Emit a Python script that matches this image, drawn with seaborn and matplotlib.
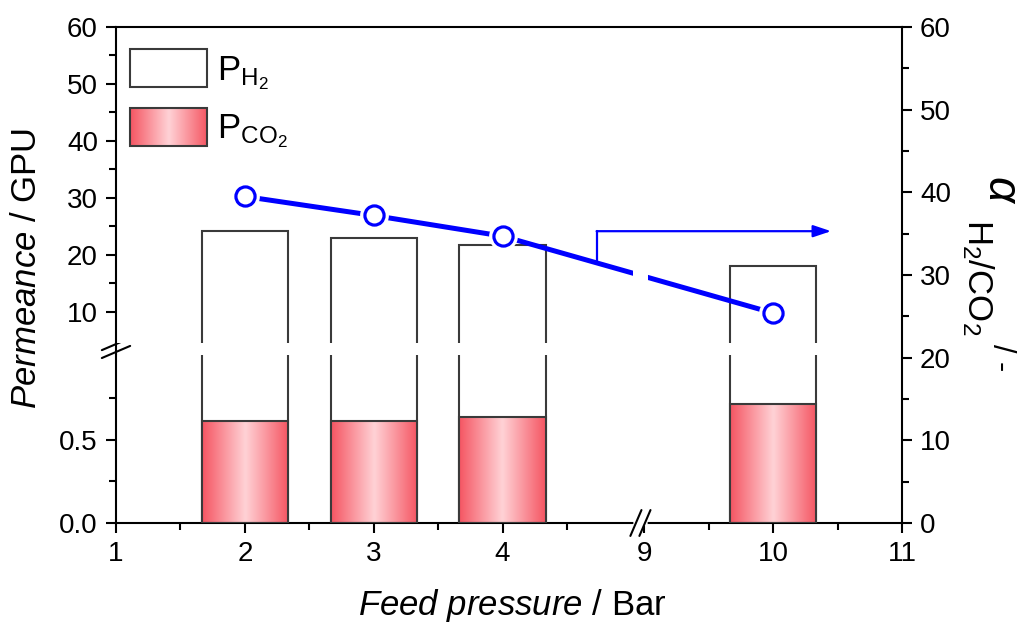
import numpy as np
import pandas as pd
import matplotlib
matplotlib.use("Agg")
import matplotlib.pyplot as plt
import matplotlib.transforms as mtransforms
from matplotlib.colors import LinearSegmentedColormap
from matplotlib.patches import Rectangle
import seaborn as sns


# values
pressure = [2, 3, 4, 10]
perm_h2 = [24.2, 22.9, 21.75, 18.0]
perm_co2 = [0.615, 0.612, 0.638, 0.716]
selectivity = [39.5, 37.2, 34.7, 25.4]
xtick_values = [1, 2, 3, 4, 9, 10, 11]
xminor_values = [1.5, 2.5, 3.5, 4.5, 9.5, 10.5]

SHIFT = 3.9      # the x axis jumps from 4 to 9
BREAK_X = 5.07


def to_pos(p):
    p = np.asarray(p, dtype=float)
    return np.where(p >= 8, p - SHIFT, p)


sns.set_theme(style="ticks")
plt.rcParams["font.family"] = ["Liberation Sans", "DejaVu Sans"]
plt.rcParams["mathtext.fontset"] = "custom"
plt.rcParams["mathtext.rm"] = "Liberation Sans"
plt.rcParams["mathtext.it"] = "Liberation Sans:italic"
plt.rcParams["mathtext.bf"] = "Liberation Sans:bold"
plt.rcParams["text.color"] = "black"
plt.rcParams["axes.labelcolor"] = "black"
plt.rcParams["xtick.color"] = "black"
plt.rcParams["ytick.color"] = "black"

W, H = 1027, 626
fig = plt.figure(figsize=(W / 100, H / 100), dpi=100)
left, right = 116 / W, 902 / W
ax_lo = fig.add_axes([left, (H - 523) / H, right - left, (523 - 355) / H])
ax_hi = fig.add_axes([left, (H - 343) / H, right - left, (343 - 27) / H])
ax_r = fig.add_axes([left, (H - 523) / H, right - left, (523 - 27) / H])
ax_r.patch.set_visible(False)

df = pd.DataFrame({"pos": to_pos(pressure), "h2": perm_h2, "co2": perm_co2})
n = len(pressure)
edge = "#3a3a3a"
cmap = LinearSegmentedColormap.from_list(
    "bar", ["#f55562", "#ffd2d6", "#f55562"]
)
grad = np.linspace(0, 1, 256)[None, :]

for ax in (ax_lo, ax_hi):
    sns.barplot(
        data=df, x="pos", y="h2", native_scale=True, width=0.67,
        color="white", edgecolor=edge, linewidth=1.5, errorbar=None,
        ax=ax, zorder=2
    )

sns.barplot(
    data=df, x="pos", y="co2", native_scale=True, width=0.67,
    color="red", edgecolor=edge, linewidth=1.5, errorbar=None,
    ax=ax_lo, zorder=3
)
for patch in ax_lo.patches[n:]:
    x0, y0 = patch.get_x(), patch.get_y()
    w, h = patch.get_width(), patch.get_height()
    im = ax_lo.imshow(
        grad, cmap=cmap, extent=[x0, x0 + w, y0, y0 + h],
        aspect="auto", zorder=2.5, interpolation="bicubic"
    )
    im.set_clip_path(patch)
    patch.set_facecolor("none")

# selectivity on the right axis
pos = to_pos(pressure)
sns.lineplot(x=pos, y=selectivity, ax=ax_r, color="blue", linewidth=3.6, zorder=3)
sns.scatterplot(x=pos, y=selectivity, ax=ax_r, s=430, color="white",
                linewidth=0, zorder=4)
sns.scatterplot(x=pos, y=selectivity, ax=ax_r, s=190, color="white",
                edgecolor="blue", linewidth=2.3, zorder=5)

yb = np.interp(BREAK_X, pos, selectivity)
ax_r.add_patch(Rectangle((BREAK_X - 0.055, yb - 1.6), 0.11, 3.2,
                         facecolor="white", edgecolor="none", zorder=3.5))

arrow_x = 4.73
ya = np.interp(arrow_x, pos, selectivity)
ax_r.plot([arrow_x, arrow_x], [ya, 35.3], color="blue", lw=1.6, zorder=3)
ax_r.annotate(
    "", xy=(6.55, 35.3), xytext=(arrow_x, 35.3),
    arrowprops=dict(arrowstyle="-|>,head_length=0.9,head_width=0.3",
                    color="blue", lw=1.6, shrinkA=0, shrinkB=0),
    zorder=3
)

# legend drawn by hand
r1 = Rectangle((0.0178, 0.810), 0.098, 0.120, transform=ax_hi.transAxes,
               facecolor="white", edgecolor=edge, lw=1.5, clip_on=False, zorder=5)
ax_hi.add_patch(r1)
r2 = Rectangle((0.0178, 0.623), 0.098, 0.120, transform=ax_hi.transAxes,
               facecolor="none", edgecolor=edge, lw=1.5, clip_on=False, zorder=6)
ax_hi.add_patch(r2)
im = ax_hi.imshow(grad, cmap=cmap, extent=[0.0178, 0.1158, 0.623, 0.743],
                  transform=ax_hi.transAxes, aspect="auto", zorder=5,
                  interpolation="bicubic")
im.set_clip_path(r2)
ax_hi.text(0.128, 0.832, r"P$_{\mathrm{H_2}}$", transform=ax_hi.transAxes,
           fontsize=25, va="baseline")
ax_hi.text(0.128, 0.649, r"P$_{\mathrm{CO_2}}$", transform=ax_hi.transAxes,
           fontsize=25, va="baseline")

# limits and ticks
ax_lo.set_xlim(1, 7.1)
ax_lo.set_ylim(0, 1.012)
ax_hi.set_xlim(1, 7.1)
ax_hi.set_ylim(4.56, 60)
ax_r.set_xlim(1, 7.1)
ax_r.set_ylim(0, 60)

for ax in (ax_lo, ax_hi, ax_r):
    ax.set_xlabel("")
    ax.set_ylabel("")
    ax.tick_params(which="both", direction="out", width=1.5,
                   colors="black", labelsize=20, pad=6)
    ax.tick_params(which="major", length=7)
    ax.tick_params(which="minor", length=5)
    for s in ax.spines.values():
        s.set_linewidth(1.5)
        s.set_color("black")

ax_lo.spines[["top", "right"]].set_visible(False)
ax_lo.set_xticks(to_pos(xtick_values))
ax_lo.set_xticklabels([str(v) for v in xtick_values])
ax_lo.set_xticks(to_pos(xminor_values), minor=True)
ax_lo.set_yticks([0, 0.5])
ax_lo.set_yticklabels(["0.0", "0.5"])
ax_lo.set_yticks([0.25, 0.75], minor=True)

ax_hi.spines[["bottom", "right"]].set_visible(False)
ax_hi.tick_params(axis="x", which="both", bottom=False, labelbottom=False)
ax_hi.set_yticks([10, 20, 30, 40, 50, 60])
ax_hi.set_yticks([15, 25, 35, 45, 55], minor=True)

ax_r.spines[["left", "bottom", "top"]].set_visible(False)
ax_r.set_xticks([])
ax_r.yaxis.tick_right()
ax_r.set_yticks(range(0, 61, 10))
ax_r.set_yticks(range(5, 60, 10), minor=True)

# break marks on the x axis
tx = mtransforms.blended_transform_factory(ax_lo.transData, ax_lo.transAxes)
ax_lo.plot([BREAK_X - 0.035, BREAK_X + 0.035], [0, 0], transform=tx,
           color="white", lw=4, clip_on=False, zorder=10)
for off in (-0.035, 0.035):
    ax_lo.plot([BREAK_X + off - 0.043, BREAK_X + off + 0.043], [-0.077, 0.077],
               transform=tx, color="black", lw=1.5, clip_on=False, zorder=11)

# break marks on the left axis
ax_lo.plot([0, 0], [1, 1.071], transform=ax_lo.transAxes, color="black",
           lw=1.5, clip_on=False, zorder=10)
for yc in (1.018, 1.065):
    ax_lo.plot([-0.018, 0.018], [yc - 0.036, yc + 0.036],
               transform=ax_lo.transAxes, color="black", lw=1.5,
               clip_on=False, zorder=11)

fig.text(27 / W, 1 - 268 / H, r"$\it{Permeance}$ / GPU", rotation=90,
         ha="center", va="center", fontsize=25)
fig.text(512 / W, 1 - 605 / H, r"$\it{Feed\ pressure}$ / Bar",
         ha="center", va="center", fontsize=25)
fig.text(1001 / W, 1 - 190 / H, r"$\alpha$",
         rotation=270, ha="center", va="center", fontsize=33)
fig.text(978 / W, 1 - 277 / H, r"H$_2$/CO$_2$",
         rotation=270, ha="center", va="center", fontsize=25)
fig.text(1001 / W, 1 - 358 / H, "/ -",
         rotation=270, ha="center", va="center", fontsize=22)

fig.savefig("out.png", dpi=100)
